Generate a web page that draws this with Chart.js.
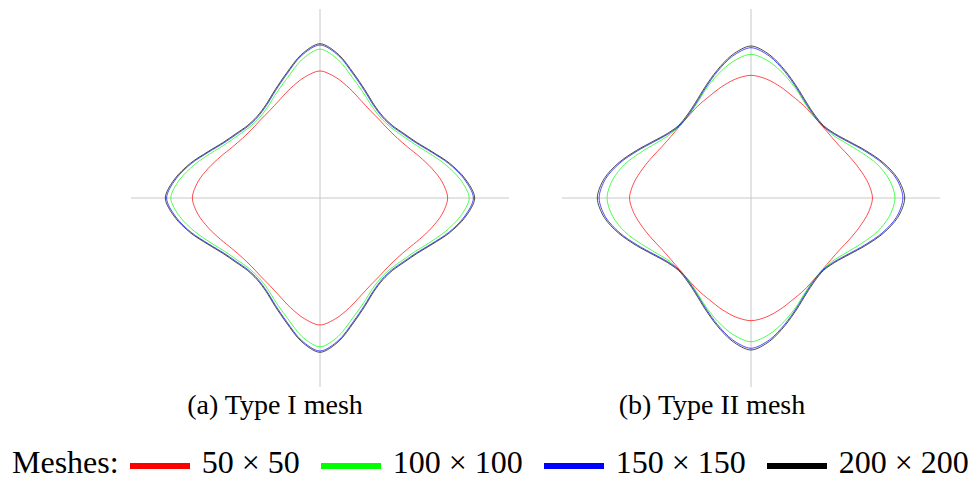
<!DOCTYPE html>
<html>
<head>
<meta charset="utf-8">
<script src="https://cdn.jsdelivr.net/npm/chart.js@4.4.1/dist/chart.umd.min.js"></script>
<style>
html,body{margin:0;padding:0;background:#fff;width:980px;height:482px;overflow:hidden;}
body{position:relative;font-family:"Liberation Serif","Times New Roman",serif;color:#000;}
.panel{position:absolute;top:9px;width:378px;height:378px;}
#pa{left:131px;}
#pb{left:562px;}
.cap{position:absolute;top:391px;width:300px;text-align:center;font-size:28px;line-height:28px;white-space:nowrap;}
#capa{left:125px;}
#capb{left:562px;}
#legend{position:absolute;left:12px;top:446px;font-size:32px;line-height:32px;white-space:nowrap;}
.sw{display:inline-block;width:60px;height:6px;vertical-align:4px;margin-left:21px;margin-right:12px;}
.sw.first{margin-left:11px;}
</style>
</head>
<body>
<div class="panel" id="pa"><canvas id="ca" width="378" height="378"></canvas></div>
<div class="panel" id="pb"><canvas id="cb" width="378" height="378"></canvas></div>
<div class="cap" id="capa"></div>
<div class="cap" id="capb"></div>
<div id="legend"></div>
<script>
// Polar direction of each sample (degrees, clockwise from the positive x axis on screen)
const angleLabels = ['0','7.5','15','22.5','30','37.5','45','52.5','60','67.5','75','82.5',
  '90','97.5','105','112.5','120','127.5','135','142.5','150','157.5','165','172.5',
  '180','187.5','195','202.5','210','217.5','225','232.5','240','247.5','255','262.5',
  '270','277.5','285','292.5','300','307.5','315','322.5','330','337.5','345','352.5'];

const meshLabels = ['50 \u00d7 50','100 \u00d7 100','150 \u00d7 150','200 \u00d7 200'];
const meshColors = ['#ff0000','#00ff00','#0000ff','#000000'];
const legendTitle = 'Meshes:';
const panelCaptions = ['(a) Type I mesh','(b) Type II mesh'];

// (a) Type I mesh — radius per direction
const typeI_50 = [1.277,1.232,1.155,1.078,1.015,0.979,0.968,0.981,1.008,1.060,1.136,1.216,1.270,
  1.216,1.136,1.060,1.008,0.981,0.968,0.979,1.015,1.078,1.155,1.232,1.277,
  1.232,1.155,1.078,1.015,0.979,0.968,0.981,1.008,1.060,1.136,1.216,1.270,
  1.216,1.136,1.060,1.008,0.981,0.968,0.979,1.015,1.078,1.155,1.232];
const typeI_100 = [1.492,1.415,1.297,1.177,1.085,1.031,1.000,1.004,1.049,1.137,1.248,1.395,1.488,
  1.395,1.248,1.137,1.049,1.004,1.000,1.031,1.085,1.177,1.297,1.415,1.492,
  1.415,1.297,1.177,1.085,1.031,1.000,1.004,1.049,1.137,1.248,1.395,1.488,
  1.395,1.248,1.137,1.049,1.004,1.000,1.031,1.085,1.177,1.297,1.415];
const typeI_150 = [1.534,1.454,1.332,1.203,1.106,1.049,1.016,1.022,1.070,1.162,1.282,1.434,1.530,
  1.434,1.282,1.162,1.070,1.022,1.016,1.049,1.106,1.203,1.332,1.454,1.534,
  1.454,1.332,1.203,1.106,1.049,1.016,1.022,1.070,1.162,1.282,1.434,1.530,
  1.434,1.282,1.162,1.070,1.022,1.016,1.049,1.106,1.203,1.332,1.454];
const typeI_200 = [1.547,1.465,1.342,1.212,1.115,1.058,1.025,1.031,1.079,1.172,1.293,1.445,1.543,
  1.445,1.293,1.172,1.079,1.031,1.025,1.058,1.115,1.212,1.342,1.465,1.547,
  1.465,1.342,1.212,1.115,1.058,1.025,1.031,1.079,1.172,1.293,1.445,1.543,
  1.445,1.293,1.172,1.079,1.031,1.025,1.058,1.115,1.212,1.342,1.465];

// (b) Type II mesh — radius per direction
const typeII_50 = [1.215,1.180,1.123,1.070,1.028,1.010,1.012,1.030,1.063,1.098,1.149,1.199,1.227,
  1.199,1.149,1.098,1.063,1.030,1.012,1.010,1.028,1.070,1.123,1.180,1.215,
  1.180,1.123,1.070,1.028,1.010,1.012,1.030,1.063,1.098,1.149,1.199,1.227,
  1.199,1.149,1.098,1.063,1.030,1.012,1.010,1.028,1.070,1.123,1.180];
const typeII_100 = [1.440,1.396,1.306,1.193,1.097,1.033,1.018,1.033,1.087,1.178,1.279,1.377,1.437,
  1.377,1.279,1.178,1.087,1.033,1.018,1.033,1.097,1.193,1.306,1.396,1.440,
  1.396,1.306,1.193,1.097,1.033,1.018,1.033,1.087,1.178,1.279,1.377,1.437,
  1.377,1.279,1.178,1.087,1.033,1.018,1.033,1.097,1.193,1.306,1.396];
const typeII_150 = [1.519,1.467,1.356,1.230,1.122,1.048,1.017,1.038,1.096,1.190,1.307,1.429,1.503,
  1.429,1.307,1.190,1.096,1.038,1.017,1.048,1.122,1.230,1.356,1.467,1.519,
  1.467,1.356,1.230,1.122,1.048,1.017,1.038,1.096,1.190,1.307,1.429,1.503,
  1.429,1.307,1.190,1.096,1.038,1.017,1.048,1.122,1.230,1.356,1.467];
const typeII_200 = [1.537,1.481,1.368,1.241,1.132,1.057,1.025,1.047,1.106,1.201,1.319,1.443,1.520,
  1.443,1.319,1.201,1.106,1.047,1.025,1.057,1.132,1.241,1.368,1.481,1.537,
  1.481,1.368,1.241,1.132,1.057,1.025,1.047,1.106,1.201,1.319,1.443,1.520,
  1.443,1.319,1.201,1.106,1.047,1.025,1.057,1.132,1.241,1.368,1.481];

const axisMax = 1.89;

function makeChart(canvasId, seriesList) {
  new Chart(document.getElementById(canvasId), {
    type: 'radar',
    data: {
      labels: angleLabels,
      datasets: seriesList.map((s, i) => ({
        label: meshLabels[i],
        data: s,
        borderColor: meshColors[i],
        backgroundColor: 'rgba(0,0,0,0)',
        borderWidth: 0.7,
        pointRadius: 0,
        pointHoverRadius: 0,
        fill: false,
        tension: 0.3,
        order: seriesList.length - i
      }))
    },
    options: {
      responsive: false,
      animation: false,
      events: [],
      layout: { padding: 0 },
      plugins: { legend: { display: false }, tooltip: { enabled: false } },
      scales: {
        r: {
          min: 0,
          max: axisMax,
          startAngle: 90,
          ticks: { display: false },
          grid: { display: false },
          pointLabels: { display: false },
          angleLines: {
            display: true,
            color: ctx => (ctx.index % 12 === 0 ? '#c8c8c8' : 'rgba(0,0,0,0)'),
            lineWidth: ctx => (ctx.index % 12 === 0 ? 1 : 0)
          }
        }
      }
    }
  });
}

makeChart('ca', [typeI_50, typeI_100, typeI_150, typeI_200]);
makeChart('cb', [typeII_50, typeII_100, typeII_150, typeII_200]);

document.getElementById('capa').textContent = panelCaptions[0];
document.getElementById('capb').textContent = panelCaptions[1];

const leg = document.getElementById('legend');
const t = document.createElement('span');
t.textContent = legendTitle;
leg.appendChild(t);
meshLabels.forEach((lab, i) => {
  const sw = document.createElement('span');
  sw.className = 'sw' + (i === 0 ? ' first' : '');
  sw.style.background = meshColors[i];
  leg.appendChild(sw);
  const tx = document.createElement('span');
  tx.textContent = lab;
  leg.appendChild(tx);
});
</script>
</body>
</html>
